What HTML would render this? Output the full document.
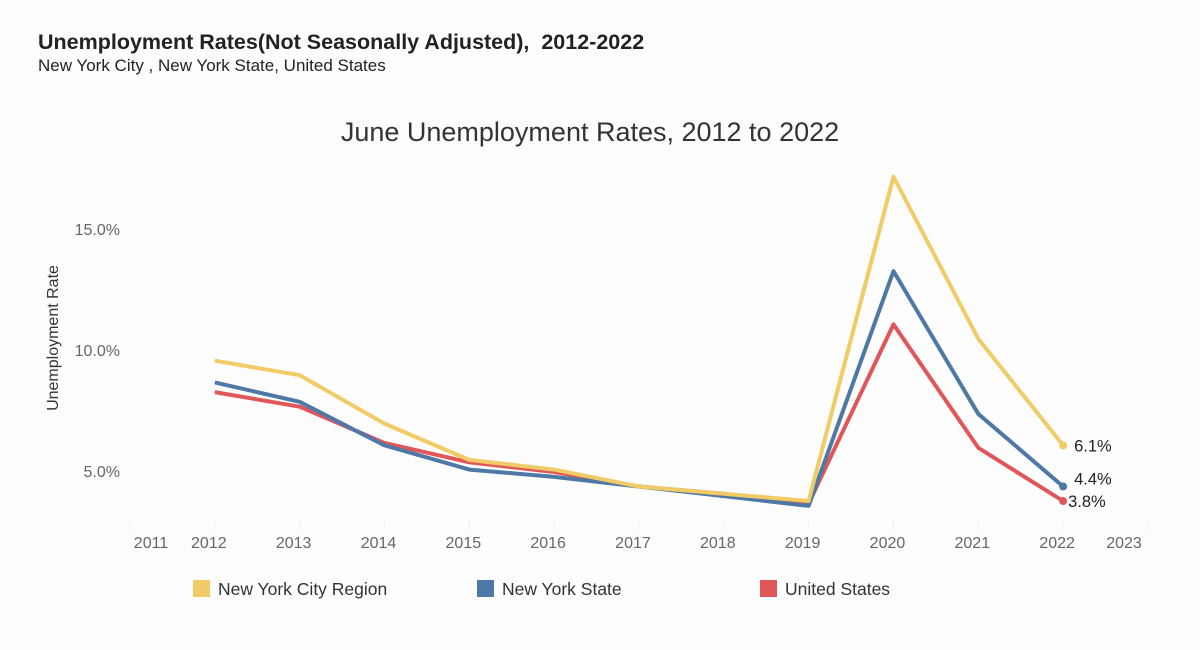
<!DOCTYPE html>
<html><head><meta charset="utf-8"><style>
body{margin:0;background:#fff;font-family:"Liberation Sans",sans-serif;}
#wrap{position:relative;width:1200px;height:650px;background:#fdfdfd;}
</style></head><body>
<div id="wrap">
<div style="position:absolute;left:38px;top:30px;font-size:21.5px;font-weight:bold;color:#222">Unemployment Rates(Not Seasonally Adjusted),&nbsp; 2012-2022</div>
<div style="position:absolute;left:38px;top:56px;font-size:17px;color:#222">New York City , New York State, United States</div>
<svg id="chart" width="1200" height="650" style="position:absolute;left:0;top:0"></svg>
</div>
<script>
const years=[2012,2013,2014,2015,2016,2017,2018,2019,2020,2021,2022];
const axisYears=[2011,2012,2013,2014,2015,2016,2017,2018,2019,2020,2021,2022,2023];
const nyc=[9.6,9.0,7.0,5.5,5.1,4.4,4.1,3.8,17.2,10.5,6.1];
const nys=[8.7,7.9,6.1,5.1,4.8,4.4,4.0,3.6,13.3,7.4,4.4];
const us=[8.3,7.7,6.2,5.4,5.0,4.4,4.1,3.7,11.1,6.0,3.8];
const yTicks=[5,10,15];
const seriesNames=["New York City Region","New York State","United States"];
const NS="http://www.w3.org/2000/svg";
const svg=document.getElementById('chart');
const x=yr=>130+(yr-2011)*84.83;
const y=v=>593-v*24.2;
function mk(t,a,p){const e=document.createElementNS(NS,t);for(const k in a)e.setAttribute(k,a[k]);(p||svg).appendChild(e);return e;}
let t=mk('text',{x:590,y:141,'text-anchor':'middle','font-size':27,fill:'#333'});t.textContent="June Unemployment Rates, 2012 to 2022";


t=mk('text',{x:58,y:338,'text-anchor':'middle','font-size':16,fill:'#333',transform:'rotate(-90 58 338)'});t.textContent="Unemployment Rate";


yTicks.forEach(v=>{const e=mk('text',{x:120,y:y(v)+5,'text-anchor':'end','font-size':16,fill:'#666'});e.textContent=v.toFixed(1)+'%';

});
axisYears.forEach((yr,i)=>{const l=mk('line',{x1:x(yr),x2:x(yr),y1:522,y2:530,stroke:'#eee'});


let lx=x(yr)-6;if(i==0)lx=151;if(i==axisYears.length-1)lx=1124;
const e=mk('text',{x:lx,y:548,'text-anchor':'middle','font-size':16,fill:'#666'});e.textContent=yr;

});
const colors=["#f1cb65","#4e79a7","#e15759"];
const data=[nyc,nys,us];
const lblOff=[0,-8,0];
[2,1,0].forEach(s=>{const d=data[s].map((v,i)=>(i?'L':'M')+x(years[i])+','+y(v)).join('');
const p=mk('path',{d:d,fill:'none',stroke:colors[s],'stroke-width':4,'stroke-linejoin':'round'});


const last=data[s].length-1;
const c=mk('circle',{cx:x(years[last]),cy:y(data[s][last]),r:4,fill:colors[s]});


const e=mk('text',{x:x(years[last])+(s==2?5:11),y:y(data[s][last])+6+lblOff[s],'font-size':16.5,fill:'#222'});e.textContent=data[s][last].toFixed(1)+'%';

});
const lx=[193,477,760];
seriesNames.forEach((n,i)=>{const r=mk('rect',{x:lx[i],y:580,width:17,height:17,fill:colors[i]});


const e=mk('text',{x:lx[i]+25,y:595,'font-size':17.5,fill:'#333'});e.textContent=n;

});
</script>
</body></html>
